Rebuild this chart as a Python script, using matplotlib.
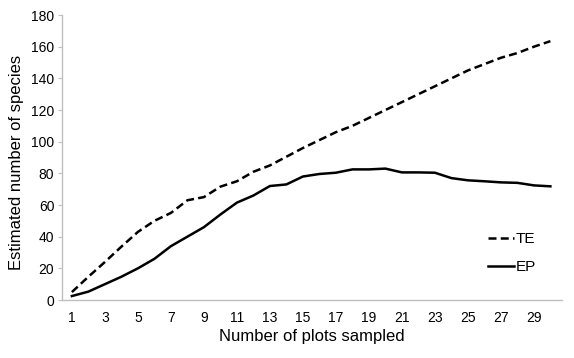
import numpy as np
import matplotlib
matplotlib.use("Agg")
import matplotlib.pyplot as plt

plt.rcParams['font.family'] = ['Liberation Sans', 'DejaVu Sans']

# data
plots = list(range(1, 31))
te = [5, 14.7, 24, 33.7, 43, 50, 55, 63, 65, 71.6, 75, 81, 85, 90.5, 96,
      101, 106, 110, 115, 120, 125, 130, 135, 140, 145, 149, 153, 156, 160, 163.5]
ep = [2.5, 5.3, 10, 14.7, 20, 26, 34, 40, 46, 54, 61.5, 66, 72, 73, 78,
      79.6, 80.4, 82.5, 82.5, 83, 80.6, 80.6, 80.4, 77, 75.6, 75, 74.3, 74, 72.4, 71.8]
xticks = list(range(1, 30, 2))
yticks = list(range(0, 181, 20))

fig = plt.figure(figsize=(5.74, 3.58), dpi=100)
ax = fig.add_axes([0.108, 0.162, 0.871, 0.796])

ax.plot(plots, te, color='black', lw=1.8, ls=(0, (3.2, 1.7)), label='TE')
ax.plot(plots, ep, color='black', lw=1.8, label='EP')

ax.set_xlim(0.4, 30.7)
ax.set_ylim(0, 180)
ax.set_xticks(xticks)
ax.set_yticks(yticks)
ax.tick_params(axis='x', length=0, pad=8, labelsize=10)
ax.tick_params(axis='y', length=3, color='#bfbfbf', pad=2.5, labelsize=10)

for s in ['top', 'right']:
    ax.spines[s].set_visible(False)
for s in ['left', 'bottom']:
    ax.spines[s].set_color('#bfbfbf')
    ax.spines[s].set_linewidth(1)

ax.set_xlabel('Number of plots sampled', fontsize=12, labelpad=3)
ax.set_ylabel('Estimated number of species', fontsize=12)
ax.yaxis.set_label_coords(-0.076, 0.484)

ax.legend(loc='lower right', bbox_to_anchor=(0.976, 0.043), frameon=False,
          fontsize=11, handlelength=1.7, handletextpad=0.1, labelspacing=0.9)

fig.savefig('out.png', dpi=100)
